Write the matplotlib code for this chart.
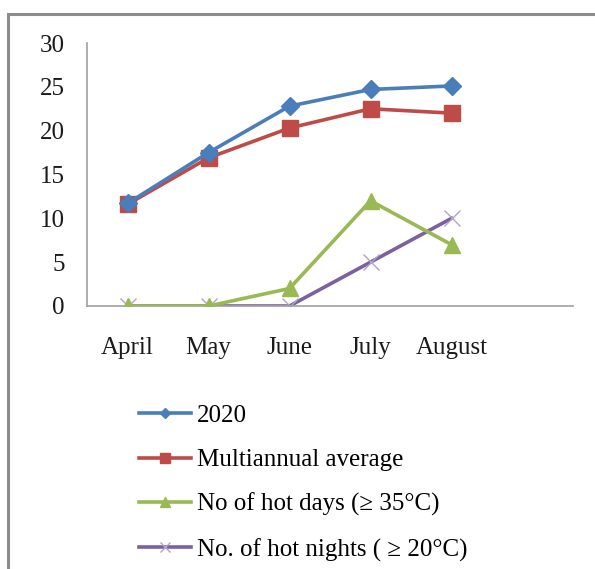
import matplotlib
matplotlib.use("Agg")
import matplotlib.pyplot as plt
from matplotlib.patches import Rectangle

# chart data
months = ["April", "May", "June", "July", "August"]
temp_2020 = [11.7, 17.5, 22.8, 24.7, 25.1]
temp_avg = [11.6, 16.9, 20.3, 22.5, 22.0]
hot_days = [0, 0, 2, 12, 7]
hot_nights = [0, 0, 0, 5, 10]

plt.rcParams['font.family'] = ['Liberation Serif', 'DejaVu Serif']

fig = plt.figure(figsize=(5.95, 5.69), dpi=100)
ax = fig.add_axes([87 / 595, 1 - 306 / 569, (573 - 87) / 595, (306 - 43) / 569])

x = list(range(len(months)))

ax.plot(x, temp_2020, color='#4A7EBB', lw=2.6, marker='D', ms=9,
        label='2020', zorder=4)
ax.plot(x, temp_avg, color='#BE4B48', lw=2.6, marker='s', ms=11,
        label='Multiannual average', zorder=3)
ax.plot(x, hot_days, color='#98B954', lw=2.6, marker='^', ms=11,
        label='No of hot days (\u2265 35\u00b0C)', zorder=3)
ax.plot(x, hot_nights, color='#7D60A0', lw=2.6, marker='x', ms=11,
        mew=1.0, mec='#B0A4C8', label='No. of hot nights ( \u2265 20\u00b0C)', zorder=2)

ax.set_xlim(-0.5, 5.5)
ax.set_ylim(0, 30)
ax.set_yticks(range(0, 31, 5))
ax.set_xticks(x)
ax.set_xticklabels(months)
ax.tick_params(axis='both', length=0, labelsize=18, colors='#1A1A1A')
ax.tick_params(axis='y', pad=16)
ax.tick_params(axis='x', pad=22)

for side in ['top', 'right']:
    ax.spines[side].set_visible(False)
for side in ['left', 'bottom']:
    ax.spines[side].set_color('#A0A0A0')
    ax.spines[side].set_linewidth(1.2)

handles, labels = ax.get_legend_handles_labels()
fig.legend(handles, labels, loc='upper left',
           bbox_to_anchor=(116 / 595, 1 - 382 / 569),
           frameon=False, fontsize=18, labelspacing=0.87,
           handlelength=2.1, handletextpad=0.25, markerscale=0.6)

# outer picture frame
fig.patches.append(Rectangle((8 / 595, -0.1), 1.2, 1 - 14 / 569 + 0.1,
                             transform=fig.transFigure, fill=False,
                             edgecolor='#8C8C8C', lw=2.2))

fig.savefig("out.png", dpi=100)
